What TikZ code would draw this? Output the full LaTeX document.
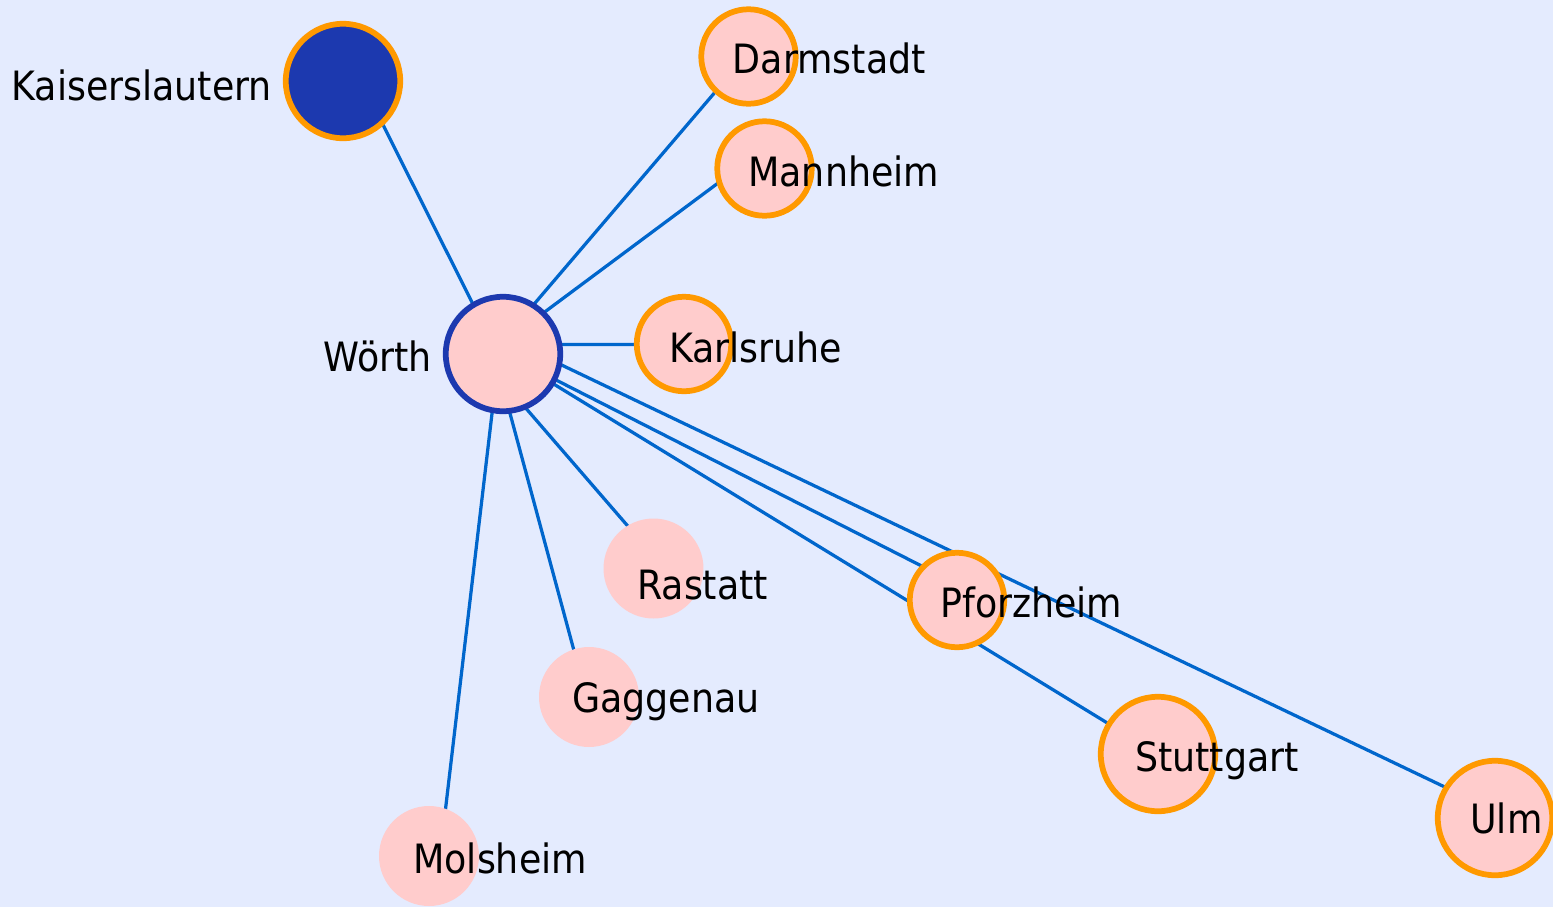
\documentclass[tikz,border=0pt]{standalone}
\usepackage{fontspec}
\setmainfont{DejaVu Sans Condensed}
\usetikzlibrary{backgrounds}

\definecolor{bgblue}{HTML}{E4EBFE}
\definecolor{roadblue}{HTML}{0066CC}
\definecolor{darkblue}{HTML}{1C39AF}
\definecolor{citypink}{HTML}{FFCCCC}
\definecolor{ringorange}{HTML}{FF9900}

\begin{document}
\begin{tikzpicture}[x=0.02cm,y=-0.02cm,
  city/.style={circle,fill=citypink,inner sep=0pt,minimum size=2cm},
  hub/.style={city,draw=ringorange,line width=0.115cm,minimum size=1.89cm},
  bighub/.style={hub,minimum size=2.29cm},
  citylabel/.style={font=\fontsize{23}{27}\selectfont,inner sep=0pt},
  road/.style={draw=roadblue,line width=0.065cm}]
\useasboundingbox (0,0) rectangle (1553,907);

\node[bighub,fill=darkblue] (kais) at (343,81) {};
\node[bighub,draw=darkblue] (woerth) at (503,354) {};
\node[hub] (darm) at (748.5,56.5) {};
\node[hub] (mann) at (764.5,168.5) {};
\node[hub] (karls) at (684,344) {};
\node[city] (rast) at (653.5,568.5) {};
\node[city] (gagg) at (589,697) {};
\node[city] (mols) at (429,856) {};
\node[hub] (pforz) at (957,600) {};
\node[bighub] (stutt) at (1158,754) {};
\node[bighub] (ulm) at (1495,818) {};

% labels
\node[citylabel,anchor=base east] (kaistxt) at ([shift={(-71,19)}]kais.center) {Kaiserslautern};
\node[citylabel,anchor=base east] (woerthtxt) at ([shift={(-71,17)}]woerth.center) {Wörth};
\node[citylabel,anchor=base west] (darmtxt) at ([shift={(-16,16.5)}]darm.center) {Darmstadt};
\node[citylabel,anchor=base west] (manntxt) at ([shift={(-16.5,17.5)}]mann.center) {Mannheim};
\node[citylabel,anchor=base west] (karlstxt) at ([shift={(-15,18)}]karls.center) {Karlsruhe};
\node[citylabel,anchor=base west] (rasttxt) at ([shift={(-16.5,30.5)}]rast.center) {Rastatt};
\node[citylabel,anchor=base west] (gaggtxt) at ([shift={(-17,15)}]gagg.center) {Gaggenau};
\node[citylabel,anchor=base west] (molstxt) at ([shift={(-16,17)}]mols.center) {Molsheim};
\node[citylabel,anchor=base west] (pforztxt) at ([shift={(-17,17)}]pforz.center) {Pforzheim};
\node[citylabel,anchor=base west] (stutttxt) at ([shift={(-23,17)}]stutt.center) {Stuttgart};
\node[citylabel,anchor=base west] (ulmtxt) at ([shift={(-25,15)}]ulm.center) {Ulm};

% roads, under the circles
\begin{pgfonlayer}{background}
\fill[bgblue] (0,0) rectangle (1553,907);
\draw[road] ([shift={(-5,0)}]woerth.center) -- ([shift={(18,0)}]kais.center);
\draw[road] ([shift={(-11.5,0)}]woerth.center) -- ([shift={(-3,0)}]darm.center);
\draw[road] ([shift={(0,-11)}]woerth.center) -- ([shift={(0,-20)}]mann.center);
\draw[road] ([shift={(0,-9.5)}]woerth.center) -- ([shift={(0,0.5)}]karls.center);
\draw[road] ([shift={(-24,0)}]woerth.center) -- ([shift={(11,0)}]rast.center);
\draw[road] ([shift={(-9,0)}]woerth.center) -- ([shift={(-2.5,0)}]gagg.center);
\draw[road] ([shift={(-4,0)}]woerth.center) -- ([shift={(11,0)}]mols.center);
\draw[road] ([shift={(0,-1)}]woerth.center) -- ([shift={(0,-16)}]pforz.center);
\draw[road] ([shift={(0,-1)}]woerth.center) -- (stutt.center);
\draw[road] ([shift={(0,-17)}]woerth.center) -- ([shift={(0,-7)}]ulm.center);
\end{pgfonlayer}
\end{tikzpicture}
\end{document}
